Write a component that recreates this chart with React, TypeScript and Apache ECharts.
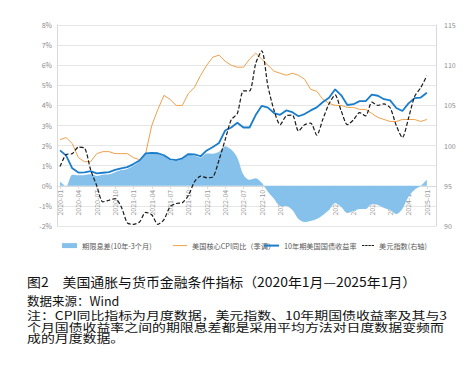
import React, { useEffect, useRef } from "react";
import * as echarts from "echarts";

const months = [
  "2020-01","2020-02","2020-03","2020-04","2020-05","2020-06","2020-07","2020-08","2020-09","2020-10","2020-11","2020-12",
  "2021-01","2021-02","2021-03","2021-04","2021-05","2021-06","2021-07","2021-08","2021-09","2021-10","2021-11","2021-12",
  "2022-01","2022-02","2022-03","2022-04","2022-05","2022-06","2022-07","2022-08","2022-09","2022-10","2022-11","2022-12",
  "2023-01","2023-02","2023-03","2023-04","2023-05","2023-06","2023-07","2023-08","2023-09","2023-10","2023-11","2023-12",
  "2024-01","2024-02","2024-03","2024-04","2024-05","2024-06","2024-07","2024-08","2024-09","2024-10","2024-11","2024-12",
  "2025-01","2025-02",
];

// 期限息差(10年-3个月), %
const termSpread = [
  0.21, -0.02, 0.55, 0.52, 0.54, 0.57, 0.49, 0.55, 0.57, 0.68, 0.78, 0.84,
  1.0, 1.22, 1.58, 1.62, 1.6, 1.48, 1.27, 1.23, 1.33, 1.53, 1.51, 1.41,
  1.61, 1.6, 1.69, 1.97, 1.8, 1.4, 0.55, 0.3, 0.38, 0.15, -0.3, -0.65,
  -1.0, -1.0, -1.2, -1.65, -1.8, -1.75, -1.65, -1.45, -1.2, -0.85, -1.05, -1.35,
  -1.25, -1.15, -1.15, -0.9, -0.95, -1.1, -1.2, -1.4, -1.15, -0.55, -0.2, 0.0,
  0.3,
];

// 美国核心CPI同比（季调）, %
const coreCpi = [
  2.3, 2.4, 2.1, 1.4, 1.2, 1.2, 1.6, 1.7, 1.7, 1.6, 1.6, 1.6,
  1.4, 1.3, 1.6, 3.0, 3.8, 4.5, 4.3, 4.0, 4.0, 4.6, 4.9, 5.5,
  6.0, 6.4, 6.5, 6.2, 6.0, 5.9, 5.9, 6.3, 6.6, 6.3, 6.0, 5.7,
  5.6, 5.5, 5.6, 5.5, 5.3, 4.8, 4.7, 4.3, 4.1, 4.0, 4.0, 3.9,
  3.9, 3.8, 3.8, 3.6, 3.4, 3.3, 3.2, 3.2, 3.3, 3.3, 3.3, 3.2,
  3.3,
];

// 10年期美国国债收益率, %
const treasury10y = [
  1.76, 1.5, 0.87, 0.66, 0.67, 0.73, 0.62, 0.65, 0.68, 0.79, 0.87, 0.93,
  1.08, 1.26, 1.61, 1.64, 1.62, 1.52, 1.32, 1.28, 1.37, 1.58, 1.56, 1.47,
  1.76, 1.93, 2.13, 2.75, 2.9, 3.14, 2.9, 2.9, 3.52, 3.98, 3.89, 3.62,
  3.53, 3.75, 3.66, 3.46, 3.57, 3.75, 3.9, 4.17, 4.38, 4.8, 4.5, 4.02,
  4.06, 4.21, 4.21, 4.54, 4.48, 4.31, 4.25, 3.87, 3.72, 4.1, 4.36, 4.39,
  4.63,
];

// 美元指数(右轴)
const dollarIndex = [
  97.4, 98.9, 99.0, 99.8, 99.7, 97.0, 95.0, 93.0, 93.2, 93.4, 92.4, 90.4,
  90.2, 90.5, 91.7, 91.4, 90.2, 90.8, 92.4, 92.8, 92.9, 93.8, 95.5, 96.2,
  96.0, 96.1, 98.2, 100.7, 103.2, 104.0, 106.8, 106.8, 110.2, 111.8, 107.4, 104.4,
  102.6, 103.7, 103.8, 101.8, 102.6, 102.8, 101.3, 103.3, 105.2, 106.3, 104.3, 102.6,
  103.2, 104.1, 103.7, 105.4, 105.0, 105.2, 104.7, 102.5, 101.0, 103.4, 106.1, 107.2,
  108.7,
];

const leftTicks = { min: -2, max: 8, interval: 1 };
const rightTicks = { min: 90, max: 115, interval: 5 };

const seriesNames = [
  "期限息差(10年-3个月)",
  "美国核心CPI同比（季调）",
  "10年期美国国债收益率",
  "美元指数(右轴)",
];

const captionTitle = "图2　美国通胀与货币金融条件指标（2020年1月—2025年1月）";
const captionSource = "数据来源：Wind";
const captionNotes = [
  "注：CPI同比指标为月度数据，美元指数、10年期国债收益率及其与3",
  "个月国债收益率之间的期限息差都是采用平均方法对日度数据变频而",
  "成的月度数据。",
];

const FONT = "'Noto Sans CJK SC', 'Noto Sans', sans-serif";
const AXIS_COLOR = "#d9d9d9";
const LABEL_COLOR = "#8c8c8c";

const GRID_TOP = 25;
const GRID_BOTTOM_Y = 226;

export default function App() {
  const ref = useRef<HTMLDivElement>(null);

  useEffect(() => {
    document.body.style.margin = "0";
    if (!ref.current) return;
    const chart = echarts.init(ref.current, undefined, { renderer: "svg" });

    const plotH = GRID_BOTTOM_Y - GRID_TOP;
    const zeroLift = (plotH * (0 - leftTicks.min)) / (leftTicks.max - leftTicks.min);

    const legendBase = {
      top: 242,
      itemGap: 4,
      padding: 0,
      textStyle: { fontSize: 7.2, color: "#595959", fontFamily: FONT },
    };

    const dashIcon = "path://M0 0h2.4v1H0z M3.2 0h2.4v1H3.2z M6.4 0h2.4v1H6.4z M9.6 0h2.4v1H9.6z";

    const option: any = {
      animation: false,
      textStyle: { fontFamily: FONT },
      grid: { left: 57, right: 38, top: GRID_TOP, bottom: 369 - GRID_BOTTOM_Y },
      legend: [
        { ...legendBase, left: 62, data: [{ name: seriesNames[0], icon: "rect" }], itemWidth: 15, itemHeight: 5 },
        { ...legendBase, left: 173, data: [{ name: seriesNames[1], icon: "rect" }], itemWidth: 14, itemHeight: 1 },
        { ...legendBase, left: 264, data: [{ name: seriesNames[2], icon: "rect" }], itemWidth: 15, itemHeight: 2 },
        { ...legendBase, left: 362, data: [{ name: seriesNames[3], icon: dashIcon }], itemWidth: 12, itemHeight: 1.2 },
      ],
      xAxis: {
        type: "category",
        data: months,
        boundaryGap: true,
        position: "bottom",
        offset: -zeroLift,
        axisLine: { onZero: false, lineStyle: { color: AXIS_COLOR } },
        axisTick: { show: true, interval: 2, alignWithLabel: true, length: 3, lineStyle: { color: AXIS_COLOR } },
        axisLabel: { interval: 2, rotate: 90, fontSize: 7, color: "#999", margin: 4, fontFamily: FONT },
        splitLine: { show: false },
      },
      yAxis: [
        {
          type: "value",
          ...leftTicks,
          axisLine: { show: true, lineStyle: { color: AXIS_COLOR } },
          axisTick: { show: false },
          axisLabel: { formatter: "{value}%", fontSize: 7, color: LABEL_COLOR, margin: 5, fontFamily: FONT },
          splitLine: { show: true, lineStyle: { color: "#e6e6e6", width: 1 } },
        },
        {
          type: "value",
          position: "right",
          ...rightTicks,
          axisLine: { show: true, lineStyle: { color: AXIS_COLOR } },
          axisTick: { show: false },
          axisLabel: { fontSize: 7, color: LABEL_COLOR, margin: 8, fontFamily: FONT },
          splitLine: { show: false },
        },
      ],
      series: [
        {
          name: seriesNames[0],
          type: "line",
          data: termSpread,
          yAxisIndex: 0,
          symbol: "none",
          smooth: 0.3,
          color: "#85c1ea",
          lineStyle: { width: 0, color: "#85c1ea" },
          areaStyle: { color: "#85c1ea", opacity: 1 },
          z: 1,
        },
        {
          name: seriesNames[1],
          type: "line",
          data: coreCpi,
          yAxisIndex: 0,
          symbol: "none",
          showSymbol: false,
          color: "#f0a04b",
          lineStyle: { width: 1, color: "#f0a04b" },
          z: 3,
        },
        {
          name: seriesNames[2],
          type: "line",
          data: treasury10y,
          yAxisIndex: 0,
          symbol: "none",
          showSymbol: false,
          color: "#1a7dcc",
          lineStyle: { width: 1.8, color: "#1a7dcc" },
          z: 4,
        },
        {
          name: seriesNames[3],
          type: "line",
          data: dollarIndex,
          yAxisIndex: 1,
          symbol: "none",
          showSymbol: false,
          smooth: 0.25,
          color: "#1a1a1a",
          lineStyle: { width: 1.2, color: "#1a1a1a", type: [4, 2] },
          z: 5,
        },
      ],
      graphic: [
        {
          type: "text",
          x: 27,
          y: 281,
          scaleX: 1.07,
          style: { text: captionTitle, fontSize: 13, fontFamily: FONT, fill: "#111", verticalAlign: "middle" },
        },
        {
          type: "text",
          x: 27,
          y: 300,
          style: { text: captionSource, fontSize: 12.5, fontFamily: FONT, fill: "#111", verticalAlign: "middle" },
        },
        ...captionNotes.map((t, i) => ({
          type: "text",
          x: 27,
          y: 315 + i * 11.6,
          scaleX: 1.22,
          style: { text: t, fontSize: 11.4, fontFamily: FONT, fill: "#111", verticalAlign: "middle" },
        })),
      ],
    };

    chart.setOption(option);
    return () => chart.dispose();
  }, []);

  return <div ref={ref} style={{ width: 474, height: 369, position: "absolute", left: 0, top: 0, background: "#fff" }} />;
}
